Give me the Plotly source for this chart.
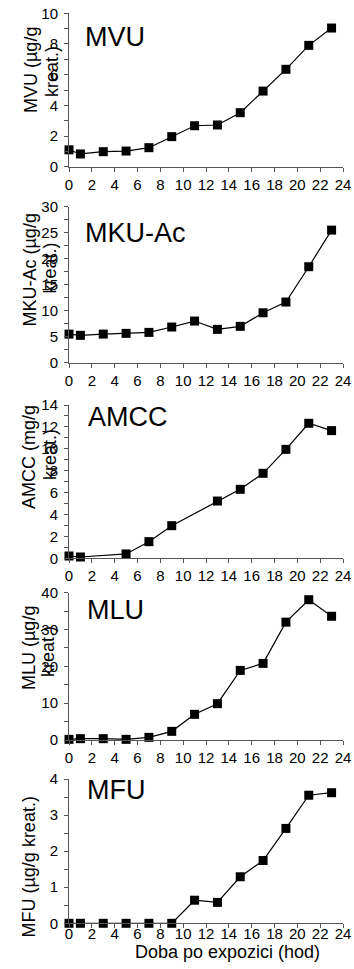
import plotly.graph_objects as go

# Sampling times (hours after exposure)
hours = [0, 1, 3, 5, 7, 9, 11, 13, 15, 17, 19, 21, 23]
amcc_hours = [0, 1, 5, 7, 9, 13, 15, 17, 19, 21, 23]

# Urinary metabolite concentrations
mvu = [1.1, 0.83, 0.98, 1.02, 1.24, 1.96, 2.67, 2.72, 3.52, 4.93, 6.35, 7.91, 9.04]
mku_ac = [5.5, 5.26, 5.5, 5.64, 5.83, 6.86, 8.01, 6.41, 6.99, 9.6, 11.67, 18.46, 25.5]
amcc = [0.21, 0.12, 0.4, 1.52, 2.98, 5.23, 6.3, 7.76, 9.95, 12.33, 11.66]
mlu = [0.18, 0.36, 0.36, 0.18, 0.72, 2.35, 6.97, 9.86, 18.9, 20.8, 32.0, 38.1, 33.6]
mfu = [0, 0, 0, 0, 0, 0, 0.64, 0.58, 1.29, 1.74, 2.63, 3.55, 3.62]

panel_names = ["MVU", "MKU-Ac", "AMCC", "MLU", "MFU"]
# Y-axis titles, one entry per text line
y_titles = [["MVU (µg/g", "kreat.)"], ["MKU-Ac (µg/g", "kreat.)"], ["AMCC (mg/g", "kreat.)"],
            ["MLU (µg/g", "kreat.)"], ["MFU (µg/g kreat.)"]]
y_max = [10, 30, 14, 40, 4]
y_dtick = [2, 5, 2, 10, 1]
x_label = "Doba po expozici (hod)"

series = [(hours, mvu), (hours, mku_ac), (amcc_hours, amcc), (hours, mlu), (hours, mfu)]

W, H = 354, 969
FONT = "Liberation Sans, Arial, sans-serif"
AXIS_COLOR = "#555555"

# Pixel geometry of each panel: (top, bottom) of the plotting area
panel_px = [(13.3, 166.7), (206.7, 362.7), (405.0, 558.3), (592.7, 740.0), (779.0, 923.3)]
x_px = (69, 343)
# Centres (x, y) of each title line, and panel-label anchors (left x, centre y)
title_px = [[(31, 70), (52, 72)], [(29.5, 270), (49.5, 268)], [(29, 457), (50, 455)],
            [(29, 648), (48, 652)], [(28, 867.5)]]
label_px = [(83, 37), (83, 233), (86, 417), (85, 610), (85, 790)]
# Bottom panel keeps its hour labels tucked closer to the axis
x_label_standoff = [0, 0, 0, 0, -7]


def px_x(v):
    return v / W


def px_y(v):
    return 1 - v / H


fig = go.Figure()
annotations = []
layout = {}

for i, ((xs, ys), top_bot) in enumerate(zip(series, panel_px)):
    n = "" if i == 0 else str(i + 1)
    fig.add_trace(go.Scatter(
        x=xs, y=ys, mode="lines+markers",
        xaxis="x" + n, yaxis="y" + n,
        line=dict(color="black", width=1.2),
        marker=dict(symbol="square", size=9, color="black"),
        cliponaxis=False, showlegend=False,
    ))
    top, bot = top_bot
    layout["xaxis" + n] = dict(
        domain=[px_x(x_px[0]), px_x(x_px[1])], anchor="y" + n,
        range=[0, 24], dtick=2, tick0=0,
        showgrid=False, zeroline=False, showline=True,
        linecolor=AXIS_COLOR, linewidth=1,
        ticks="outside", ticklen=4, tickcolor=AXIS_COLOR,
        tickfont=dict(size=15, color="black", family=FONT),
        ticklabelstandoff=x_label_standoff[i],
        automargin=False,
    )
    layout["yaxis" + n] = dict(
        domain=[px_y(bot), px_y(top)], anchor="x" + n,
        range=[0, y_max[i]], dtick=y_dtick[i], tick0=0,
        showgrid=False, zeroline=False, showline=True,
        linecolor=AXIS_COLOR, linewidth=1,
        ticks="outside", ticklen=4, tickcolor=AXIS_COLOR,
        minor=dict(dtick=y_dtick[i] / 2, ticks="outside", ticklen=4,
                   tickcolor=AXIS_COLOR, showgrid=False),
        tickfont=dict(size=15, color="black", family=FONT),
        ticklabelstandoff=3,
        automargin=False,
    )
    for line_text, (tx, ty) in zip(y_titles[i], title_px[i]):
        annotations.append(dict(
            text=line_text, x=px_x(tx), y=px_y(ty), xref="paper", yref="paper",
            xanchor="center", yanchor="middle", textangle=-90, showarrow=False,
            font=dict(size=18, color="black", family=FONT),
        ))
    lx, ly = label_px[i]
    annotations.append(dict(
        text=panel_names[i], x=px_x(lx), y=px_y(ly), xref="paper", yref="paper",
        xanchor="left", yanchor="middle", showarrow=False,
        font=dict(size=27, color="black", family=FONT),
    ))

annotations.append(dict(
    text=x_label, x=px_x(227), y=px_y(952), xref="paper", yref="paper",
    xanchor="center", yanchor="middle", showarrow=False,
    font=dict(size=18, color="black", family=FONT),
))

fig.update_layout(
    width=W, height=H,
    margin=dict(l=0, r=0, t=0, b=0),
    paper_bgcolor="white", plot_bgcolor="white",
    template="none",
    annotations=annotations,
    **layout,
)

fig.write_html("out.html")
